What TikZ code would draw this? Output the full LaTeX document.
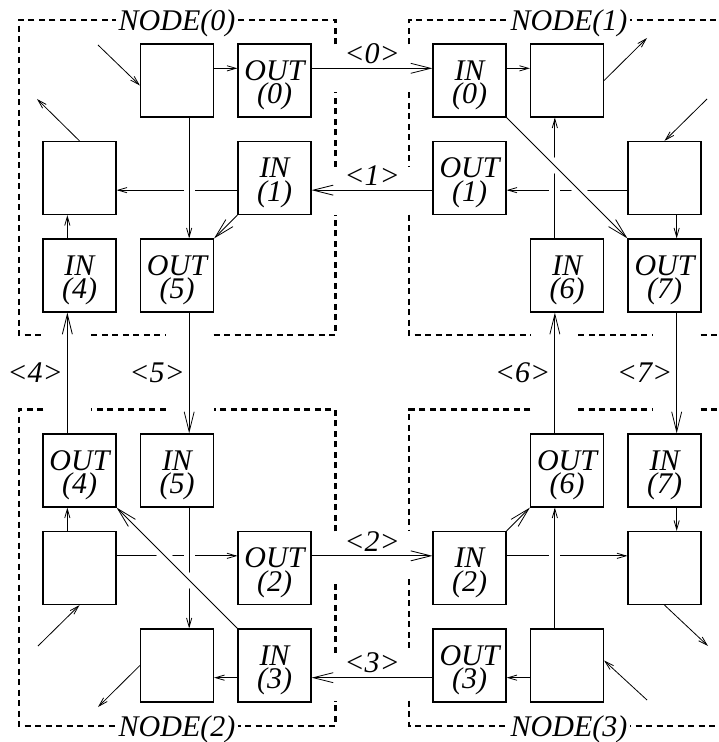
\documentclass[tikz,border=0pt]{standalone}
\usepackage{fontspec}
\setmainfont{Liberation Serif}
\usetikzlibrary{arrows.meta,backgrounds}
\newcommand{\boxtxt}[2]{\rule{0pt}{14.5pt}#1\\(#2)}
\newcommand{\chs}{6.08pt}

\begin{document}
\begin{tikzpicture}[x=0.5pt, y=-0.5pt, line width=0.5pt,
    font=\itshape\fontsize{15}{11.7}\selectfont,
    box/.style={draw, line width=0.6pt, minimum size=36.5pt, inner sep=0pt, align=center},
    sar/.style={-{Straight Barb[length=4.5pt,width=2.6pt]}},
    bar/.style={-{Straight Barb[length=10pt,width=5pt]}},
    over/.style={preaction={draw=white, line width=5.5pt, -}},
    frame/.style={line width=1.2pt, dash pattern=on 3pt off 2.25pt},
    lab/.style={fill=white, inner sep=1.5pt, anchor=base},
    ch/.style={inner sep=2pt}]
\useasboundingbox (0,0) rectangle (718,742);

% boxes
\foreach \n/\x/\y/\txt in {
    inj0/177/80.5/{}, out0/274.5/80.5/{\boxtxt{OUT}{0}},
    ej0/79.5/178/{}, in1/274.5/178/{\boxtxt{IN}{1}},
    in4/79.5/275.5/{\boxtxt{IN}{4}}, out5/177/275.5/{\boxtxt{OUT}{5}},
    in0/469.5/80.5/{\boxtxt{IN}{0}}, ej1/567/80.5/{},
    out1/469.5/178/{\boxtxt{OUT}{1}}, inj1/664.5/178/{},
    in6/567/275.5/{\boxtxt{IN}{6}}, out7/664.5/275.5/{\boxtxt{OUT}{7}},
    out4/79.5/470.5/{\boxtxt{OUT}{4}}, in5/177/470.5/{\boxtxt{IN}{5}},
    inj2/79.5/568/{}, out2/274.5/568/{\boxtxt{OUT}{2}},
    ej2/177/665.5/{}, in3/274.5/665.5/{\boxtxt{IN}{3}},
    out6/567/470.5/{\boxtxt{OUT}{6}}, in7/664.5/470.5/{\boxtxt{IN}{7}},
    in2/469.5/568/{\boxtxt{IN}{2}}, ej3/664.5/568/{},
    out3/469.5/665.5/{\boxtxt{OUT}{3}}, inj3/567/665.5/{}}
    \node[box] (\n) at (\x,\y) {\txt};

\coordinate (s0) at (98,45);  \coordinate (e0) at (37,99);
\coordinate (e1) at (647,38); \coordinate (s1) at (707,99);
\coordinate (s2) at (38,646); \coordinate (e2) at (98,707);
\coordinate (e3) at (708,646); \coordinate (s3) at (647,700);

% node frames
\draw[frame] (335.5,44.3) -- (335.5,20) -- (19,20) -- (19,335) -- (43.3,335)
    (91.3,335) -- (165.7,335) (213.7,335) -- (335.5,335) -- (335.5,214.7)
    (335.5,166.7) -- (335.5,92.3);
\draw[frame] (409,44.3) -- (409,20) -- (718,20)
    (409,92.3) -- (409,166.7)
    (409,214.7) -- (409,335) -- (530.3,335)
    (578.3,335) -- (652.7,335) (700.7,335) -- (718,335);
\draw[frame] (43.3,409.5) -- (19,409.5) -- (19,726) -- (335.5,726) -- (335.5,700.7)
    (335.5,652.7) -- (335.5,579.3)
    (335.5,531.3) -- (335.5,409.5) -- (213.7,409.5)
    (165.7,409.5) -- (91.3,409.5);
\draw[frame] (530.3,409.5) -- (409,409.5) -- (409,531.3)
    (409,579.3) -- (409,652.7)
    (409,700.7) -- (409,726) -- (718,726)
    (578.3,409.5) -- (652.7,409.5) (700.7,409.5) -- (718,409.5);
\node[lab] (n0) at (177,31) {NODE(0)};
\node[lab] (n1) at (569,31) {NODE(1)};
\node[lab] (n2) at (177,736) {NODE(2)};
\node[lab] (n3) at (569,736) {NODE(3)};

\begin{scope}[on background layer]
% node 0
\draw[sar] ([yshift=\chs]inj0.east) -- ([yshift=\chs]out0.west);
\draw[sar] ([yshift=-\chs]in1.west) -- ([yshift=-\chs]ej0.east);
\draw[sar,over] ([xshift=\chs]inj0.south) -- ([xshift=\chs]out5.north);
\draw[bar] (in1.south west) -- (out5.north east);
\draw[sar] ([xshift=-\chs]in4.north) -- ([xshift=-\chs]ej0.south);
\draw[sar] (ej0.north) -- (e0);
\draw[sar] (s0) -- ([yshift=-2.5pt]inj0.west);
% node 1
\draw[sar] ([yshift=\chs]in0.east) -- ([yshift=\chs]ej1.west);
\draw[sar] (ej1.east) -- (e1);
\draw[sar] ([yshift=-\chs]inj1.west) -- ([yshift=-\chs]out1.east);
\draw[sar] (s1) -- (inj1.north);
\draw[sar] ([xshift=\chs]inj1.south) -- ([xshift=\chs]out7.north);
\draw[sar,over] ([xshift=-\chs]in6.north) -- ([xshift=-\chs]ej1.south);
\draw[bar,over] (in0.south east) -- (out7.north west);
% node 2
\draw[sar] ([xshift=-\chs]inj2.north) -- ([xshift=-\chs]out4.south);
\draw[sar] ([yshift=\chs]inj2.east) -- ([yshift=\chs]out2.west);
\draw[sar,over] ([xshift=\chs]in5.south) -- ([xshift=\chs]ej2.north);
\draw[sar] ([yshift=-\chs]in3.west) -- ([yshift=-\chs]ej2.east);
\draw[sar] (ej2.west) -- (e2);
\draw[sar] (s2) -- (inj2.south);
\draw[bar,over] (in3.north west) -- (out4.south east);
% node 3
\draw[bar] (in2.north east) -- (out6.south west);
\draw[sar] ([yshift=\chs]in2.east) -- ([yshift=\chs]ej3.west);
\draw[sar,over] ([xshift=-\chs]inj3.north) -- ([xshift=-\chs]out6.south);
\draw[sar] ([xshift=\chs]in7.south) -- ([xshift=\chs]ej3.north);
\draw[sar] (ej3.south) -- (e3);
\draw[sar] (s3) -- ([yshift=2.5pt]inj3.east);
\draw[sar] ([yshift=-\chs]inj3.west) -- ([yshift=-\chs]out3.east);
% channels
\draw[bar] ([yshift=\chs]out0.east) -- node[ch,above] (l0) {<0>} ([yshift=\chs]in0.west);
\draw[bar] ([yshift=-\chs]out1.west) -- node[ch,above] (l1) {<1>} ([yshift=-\chs]in1.east);
\draw[bar] ([yshift=\chs]out2.east) -- node[ch,above] (l2) {<2>} ([yshift=\chs]in2.west);
\draw[bar] ([yshift=-\chs]out3.west) -- node[ch,above] (l3) {<3>} ([yshift=-\chs]in3.east);
\draw[bar] ([xshift=-\chs]out4.north) -- node[ch,left] (l4) {<4>} ([xshift=-\chs]in4.south);
\draw[bar] ([xshift=\chs]out5.south) -- node[ch,left] (l5) {<5>} ([xshift=\chs]in5.north);
\draw[bar] ([xshift=-\chs]out6.north) -- node[ch,left] (l6) {<6>} ([xshift=-\chs]in6.south);
\draw[bar] ([xshift=\chs]out7.south) -- node[ch,left] (l7) {<7>} ([xshift=\chs]in7.north);
\end{scope}
\end{tikzpicture}
\end{document}
